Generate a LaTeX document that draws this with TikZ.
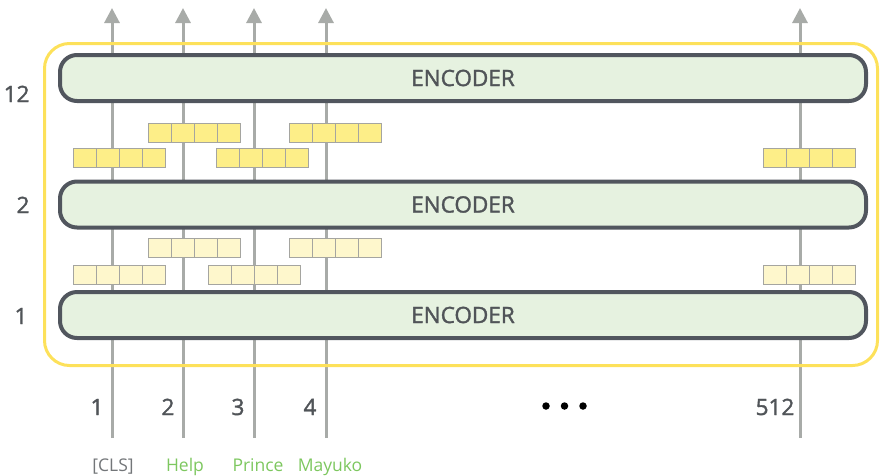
\documentclass[tikz,border=0pt]{standalone}
\usepackage{fontspec}
\setmainfont{Open Sans}
\newfontfamily\semib{Open Sans}[FakeBold=1.6]
\usetikzlibrary{arrows.meta}
\definecolor{linegray}{HTML}{A8ABA8}
\definecolor{encfill}{HTML}{E6F2E0}
\definecolor{encdraw}{HTML}{51565E}
\definecolor{frameyellow}{HTML}{FDE15A}
\definecolor{cellA}{HTML}{FDEE88}
\definecolor{cellB}{HTML}{FEF7CC}
\definecolor{cellline}{HTML}{A5A5A0}
\definecolor{txtgray}{HTML}{505458}
\definecolor{tokgreen}{HTML}{7DC75F}
\newcommand\cellgroup[4]{%
  \foreach \i in {0,...,3} {\node[cellbox,#4] (#1-\i) at ({#2+11.5+23*\i},#3) {};}}
\begin{document}
\begin{tikzpicture}[x=1pt,y=-1pt,
  arrowline/.style={line width=3pt,draw=linegray,-{Triangle[length=15pt,width=15pt]}},
  encoder/.style={draw=encdraw,fill=encfill,line width=4pt,rounded corners=17pt,
    minimum width=806pt,minimum height=46pt,inner sep=0pt,
    font=\semib\fontsize{22.5}{26}\selectfont,text=txtgray},
  cellbox/.style={draw=cellline,line width=0.8pt,minimum width=23pt,minimum height=19pt,inner sep=0pt},
  upper/.style={fill=cellA},
  lower/.style={fill=cellB},
  layerlbl/.style={anchor=base east,font=\semib\fontsize{22.5}{26}\selectfont,text=txtgray},
  poslbl/.style={anchor=base,font=\semib\fontsize{22.5}{26}\selectfont,text=txtgray},
  toklbl/.style={anchor=base,font=\fontsize{17.5}{20}\selectfont},
  dotmark/.style={fill=black,draw=none,circle,minimum size=7.5pt,inner sep=0pt}
]
\useasboundingbox (0,0) rectangle (881,475);

% token columns
\foreach \n/\x in {1/112,2/183,3/254,4/326,5/800} {
  \coordinate (b\n) at (\x,438);
  \coordinate (t\n) at (\x,8);
  \draw[arrowline] (b\n) -- (t\n);
}

% yellow frame
\draw[frameyellow,line width=3pt,rounded corners=25pt] (44.5,43.5) rectangle (877.5,365.5);

% encoders
\node[encoder] (enc12) at (463,78) {ENCODER};
\node[encoder] (enc2) at (463,204.5) {ENCODER};
\node[encoder] (enc1) at (463,315) {ENCODER};

% upper vectors
\cellgroup{ua}{73}{157.5}{upper}
\cellgroup{ub}{148}{132.5}{upper}
\cellgroup{uc}{216}{157.5}{upper}
\cellgroup{ud}{289}{132.5}{upper}
\cellgroup{ue}{763}{157.5}{upper}

% lower vectors
\cellgroup{la}{73}{274.5}{lower}
\cellgroup{lb}{148}{247.5}{lower}
\cellgroup{lc}{208}{274.5}{lower}
\cellgroup{ld}{289}{247.5}{lower}
\cellgroup{le}{763}{274.5}{lower}

% layer labels
\node[layerlbl] (l12) at (33,102) {12};
\node[layerlbl] (l2) at (33,213) {2};
\node[layerlbl] (l1) at (31,324) {1};

% position labels
\node[poslbl] (p1) at (97,415) {1};
\node[poslbl] (p2) at (168,415) {2};
\node[poslbl] (p3) at (238,415) {3};
\node[poslbl] (p4) at (310,415) {4};
\node[poslbl] (p512) at (775,415) {512};

% dots
\node[dotmark] (d1) at (546,406) {};
\node[dotmark] (d2) at (564.5,406) {};
\node[dotmark] (d3) at (583,406) {};

% tokens
\node[toklbl,text=txtgray!80] (tk1) at (113,471) {[CLS]};
\node[toklbl,text=tokgreen] (tk2) at (185,471) {Help};
\node[toklbl,text=tokgreen] (tk3) at (258,471) {Prince};
\node[toklbl,text=tokgreen] (tk4) at (330,471) {Mayuko};
\end{tikzpicture}
\end{document}
